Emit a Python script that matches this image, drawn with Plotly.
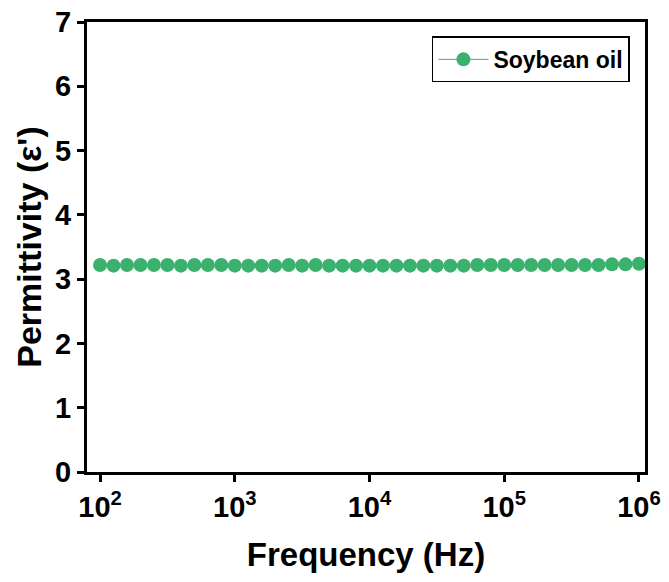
import plotly.graph_objects as go

exponents = [2 + i / 10 for i in range(41)]
frequency = [10 ** e for e in exponents]
permittivity = [3.22, 3.21, 3.22, 3.22, 3.22, 3.22, 3.21, 3.22, 3.22, 3.22,
                3.21, 3.21, 3.21, 3.21, 3.22, 3.21, 3.22, 3.21, 3.21, 3.21,
                3.21, 3.21, 3.21, 3.21, 3.21, 3.21, 3.21, 3.21, 3.22, 3.22,
                3.22, 3.22, 3.22, 3.22, 3.22, 3.22, 3.22, 3.22, 3.23, 3.23, 3.24]
xtick_vals = [1e2, 1e3, 1e4, 1e5, 1e6]
xtick_text = ["10<sup>2</sup>", "10<sup>3</sup>", "10<sup>4</sup>", "10<sup>5</sup>", "10<sup>6</sup>"]
ytick_vals = [0, 1, 2, 3, 4, 5, 6, 7]

green = "#3BB16E"
font = "Liberation Sans, Arial, sans-serif"

fig = go.Figure()
fig.add_trace(go.Scatter(
    x=frequency, y=permittivity, mode="lines+markers", name="Soybean oil",
    line=dict(color=green, width=1),
    marker=dict(color=green, size=14, line=dict(width=0)),
))

axis_common = dict(
    showline=True, linecolor="black", linewidth=3, mirror=True,
    ticks="outside", ticklen=7, tickwidth=2.5, tickcolor="black",
    showgrid=False, zeroline=False, automargin=False,
    ticklabeloverflow="allow",
    tickfont=dict(family=font, size=29, color="black", weight="bold"),
)

fig.update_layout(
    width=669, height=582,
    margin=dict(l=87, r=24, t=22, b=110),
    plot_bgcolor="white", paper_bgcolor="white",
    xaxis=dict(type="log", range=[1.903, 6.045], tickvals=xtick_vals, ticktext=xtick_text,
               title=dict(text="Frequency (Hz)", font=dict(family=font, size=33, color="black", weight="bold"), standoff=22),
               **axis_common),
    yaxis=dict(range=[0, 7], tickvals=ytick_vals,
               title=dict(text="Permittivity (ε')", font=dict(family=font, size=34, color="black", weight="bold"), standoff=4),
               **axis_common),
    legend=dict(x=0.973, y=0.968, xanchor="right", yanchor="top",
                bordercolor="black", borderwidth=1.5, bgcolor="white",
                font=dict(family=font, size=23, color="black", weight="bold"),
                itemwidth=50, tracegroupgap=0),
    showlegend=True,
)

fig.write_html("out.html", config={"displayModeBar": False},
               post_script="document.body.style.margin='0';")
